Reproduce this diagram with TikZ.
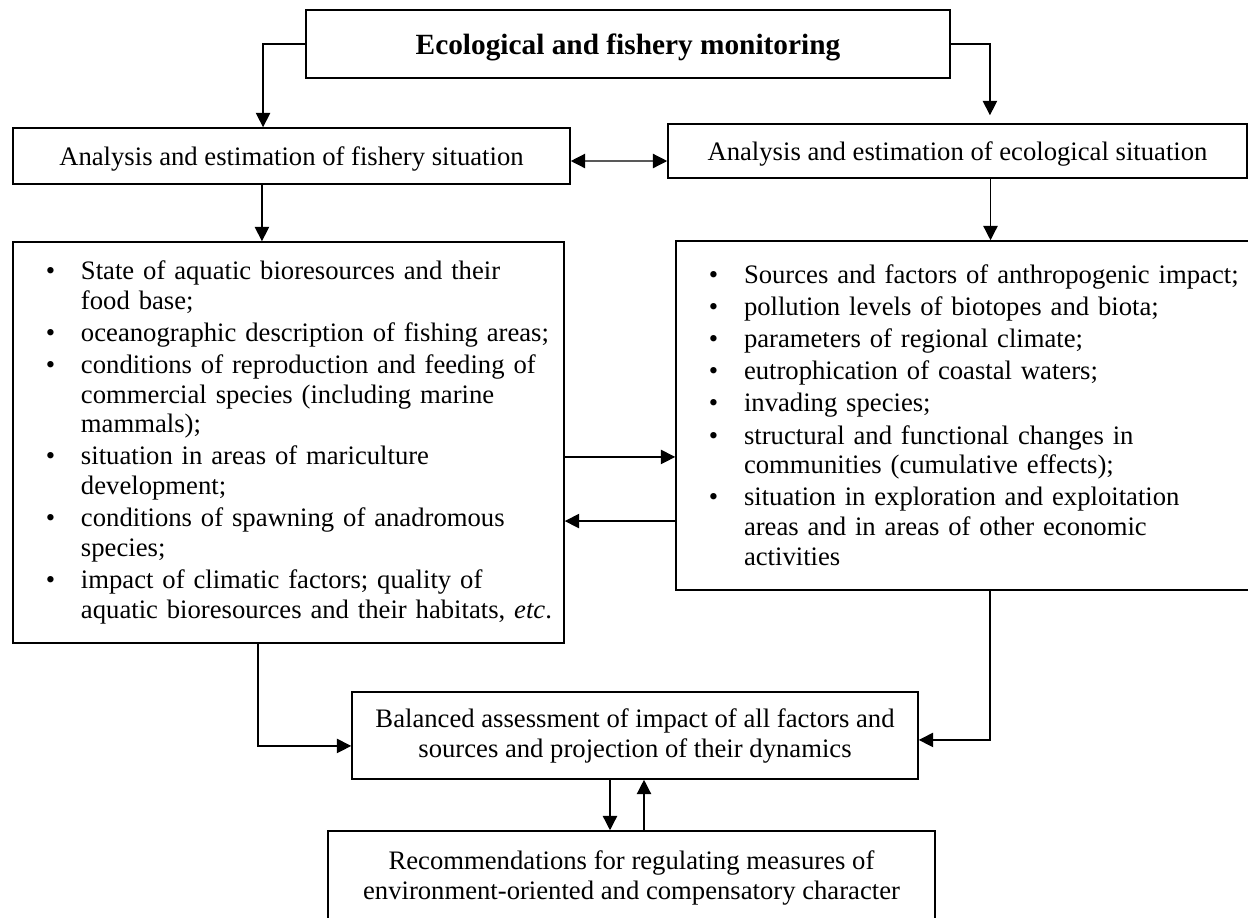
\documentclass[tikz,border=0pt]{standalone}
\usepackage{fontspec}
\setmainfont{Liberation Serif}
\usetikzlibrary{arrows.meta}
\newenvironment{boxlist}{\begin{list}{\textbullet}{\setlength{\topsep}{0pt}\setlength{\partopsep}{0pt}%
  \setlength{\itemsep}{1.2pt}\setlength{\parsep}{0pt}\setlength{\leftmargin}{30.6pt}%
  \setlength{\labelsep}{11.6pt}\setlength{\labelwidth}{19pt}}\raggedright}{\end{list}}

\begin{document}
\begin{tikzpicture}
      [x=0.45pt,y=-0.45pt,
       every node/.style={draw,line width=0.7pt,inner sep=0pt,align=center,font=\fontsize{12}{13.5}\selectfont},
       single/.style={text depth=0pt},
       lst/.style={align=left,inner xsep=0pt,font=\fontsize{12}{13.3}\selectfont},
       arr/.style={line width=0.6pt,-{Triangle[length=6.5pt,width=6.5pt]}},
       arrs/.style={line width=0.6pt,{Triangle[length=6.5pt,width=6.5pt]}-{Triangle[length=6.5pt,width=6.5pt]}}]
      \useasboundingbox (0,0) rectangle (1248,917);
      \clip (0,0) rectangle (1248,917);
      \node (monitor) at (628,44) [single,minimum width=289.8pt,minimum height=30.6pt,font=\fontsize{13.2}{15}\selectfont\bfseries] {Ecological and fishery monitoring};
      \node (fishery) at (291.5,156) [single,minimum width=250.65pt,minimum height=25.2pt] {Analysis and estimation of fishery situation};
      \node (eco) at (957.5,151) [single,minimum width=260.55pt,minimum height=24.3pt] {Analysis and estimation of ecological situation};
      \node (fishlist) at (288.5,442.5) [lst,text width=247.95pt,minimum height=180.45pt] {\begin{boxlist}
        \item State of aquatic bioresources and their\newline food base;
        \item oceanographic description of fishing areas;
        \item conditions of reproduction and feeding of\newline commercial species (including marine\newline mammals);
        \item situation in areas of mariculture\newline development;
        \item conditions of spawning of anadromous\newline species;
        \item impact of climatic factors; quality of\newline aquatic bioresources and their habitats, \textit{etc}.\rule[-7.6pt]{0pt}{1pt}
        \end{boxlist}};
      \node (ecolist) at (964,415.5) [lst,text width=259.2pt,minimum height=157.05pt] {\begin{boxlist}
        \item Sources and factors of anthropogenic impact;
        \item pollution levels of biotopes and biota;
        \item parameters of regional climate;
        \item eutrophication of coastal waters;
        \item invading species;
        \item structural and functional changes in\newline communities (cumulative effects);
        \item situation in exploration and exploitation\newline areas and in areas of other economic\newline activities\rule[-5.6pt]{0pt}{1pt}
        \end{boxlist}};
      \node (balance) at (635,735.5) [minimum width=254.7pt,minimum height=39.15pt] {Balanced assessment of impact of all factors and\\ sources and projection of their dynamics};
      \node (recom) at (631.5,877.5) [minimum width=273.15pt,minimum height=41.85pt] {Recommendations for regulating measures of\\ environment-oriented and compensatory character};

      \draw[arr] (monitor.west) -| ([xshift=-12.8pt]fishery.north);
      \draw[arr] (monitor.east) -| ([xshift=14.6pt,yshift=3.6pt]eco.north);
      \draw[arrs] ([yshift=-2.25pt]fishery.east) -- ([yshift=-4.5pt]eco.west);
      \foreach \from/\to/\dx in {fishery/fishlist/-13.3pt,eco/ecolist/14.85pt,balance/recom/-11.25pt}
        \draw[arr] ([xshift=\dx]\from.south) -- ([xshift=\dx]\from.south |- \to.north);
      \draw[arr] ([xshift=4.05pt]balance.south |- recom.north) -- ([xshift=4.05pt]balance.south);
      \draw[arr] ([yshift=-6.5pt]fishlist.east) -- ([yshift=-6.5pt]fishlist.east -| ecolist.west);
      \draw[arr] ([yshift=-47.5pt]ecolist.west) -- ([yshift=-47.5pt]ecolist.west -| fishlist.east);
      \draw[arr] ([xshift=-13.7pt]fishlist.south) |- ([yshift=-4.7pt]balance.west);
      \draw[arr] ([xshift=11.7pt]ecolist.south) |- ([yshift=-2pt]balance.east);

\end{tikzpicture}
\end{document}
